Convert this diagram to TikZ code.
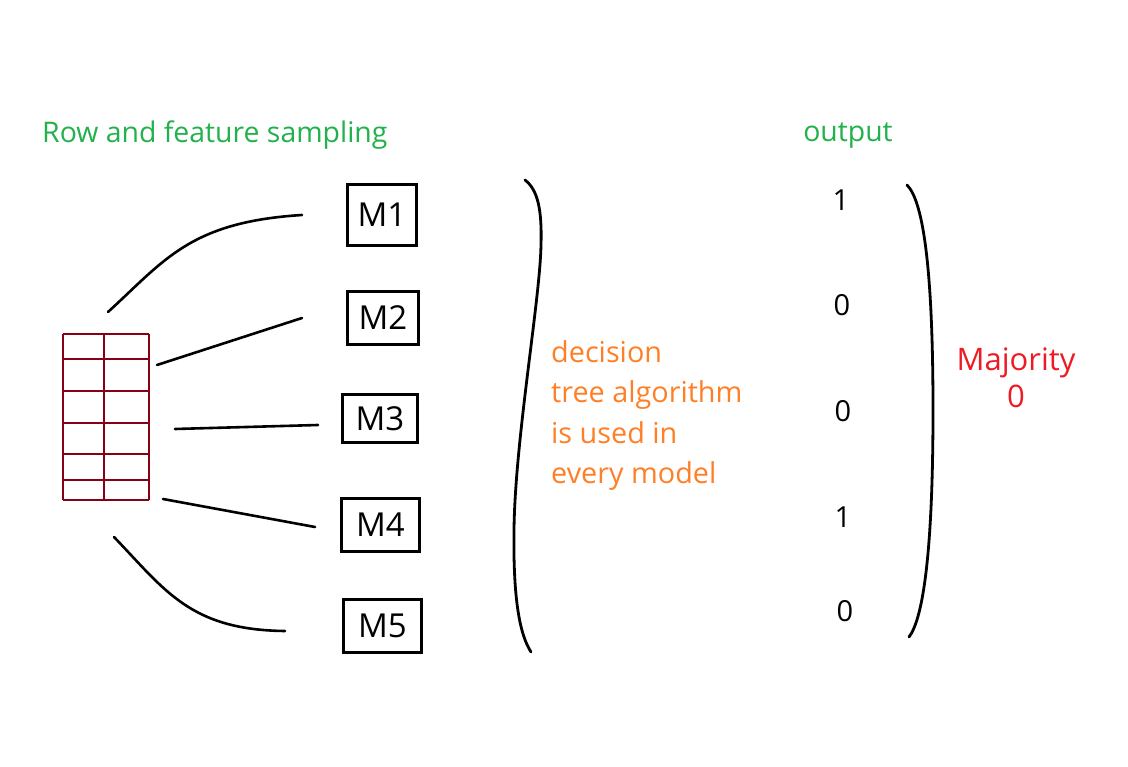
\documentclass[tikz,border=0pt]{standalone}
\usepackage{fontspec}
\setmainfont{Open Sans}
\definecolor{pgreen}{RGB}{34,177,76}
\definecolor{porange}{RGB}{255,127,39}
\definecolor{pred}{RGB}{237,28,36}
\definecolor{pdarkred}{RGB}{136,0,21}
\tikzset{
  modelbox/.style={draw=black, line width=3pt, inner sep=0pt, font=\fontsize{33}{36}\selectfont},
  conn/.style={draw=black, line width=2.6pt, line cap=round},
  brace/.style={draw=black, line width=2.8pt, line cap=round},
  gridline/.style={draw=pdarkred, line width=1.1pt},
  numtext/.style={inner sep=0pt, font=\fontsize{29}{34}\selectfont, text=black}
}
\begin{document}
\begin{tikzpicture}[x=1pt,y=-1pt]
\useasboundingbox[fill=white] (0,0) rectangle (1128,767);

% title texts
\node[anchor=base west, inner sep=0pt, text=pgreen, font=\fontsize{28.4}{34}\selectfont] (title) at (42,143) {Row and feature sampling};
\node[anchor=base, inner sep=0pt, text=pgreen, font=\fontsize{28.4}{34}\selectfont] (outlabel) at (848,142) {output};

% data grid
\node[inner sep=0pt, minimum width=86pt, minimum height=166pt] (grid) at (106,417) {};
\foreach \yy in {334,359,391,423,454,480,500}
  \draw[gridline] (63,\yy) -- (149,\yy);
\foreach \xx in {63,104,149}
  \draw[gridline] (\xx,334) -- (\xx,500);

% model boxes
\node[modelbox, minimum width=69pt, minimum height=61pt] (m1) at (382,215) {M1};
\node[modelbox, minimum width=71pt, minimum height=53pt] (m2) at (383,318) {M2};
\node[modelbox, minimum width=75pt, minimum height=48pt] (m3) at (380,418.5) {M3};
\node[modelbox, minimum width=78pt, minimum height=53pt] (m4) at (380.5,525) {M4};
\node[modelbox, minimum width=78pt, minimum height=53pt] (m5) at (382.5,626) {M5};

% connector end points
\coordinate (s1) at (108,312); \coordinate (e1) at (302,215);
\coordinate (s2) at (157,365); \coordinate (e2) at (302,318);
\coordinate (s3) at (175,429); \coordinate (e3) at (318,425);
\coordinate (s4) at (163,499); \coordinate (e4) at (315,527);
\coordinate (s5) at (114,537); \coordinate (e5) at (285,631);

\draw[conn] (s1) .. controls (165,260) and (190,222) .. (e1);
\draw[conn] (s2) -- (e2);
\draw[conn] (s3) -- (e3);
\draw[conn] (s4) -- (e4);
\draw[conn] (s5) .. controls (165,590) and (190,630) .. (e5);

% braces
\draw[brace] (525,180) .. controls (538,190) and (542,210) .. (541,245)
  .. controls (540,300) and (515,440) .. (514,530)
  .. controls (513,600) and (520,635) .. (531,652);
\draw[brace] (907,185) .. controls (922,200) and (933,260) .. (933,410)
  .. controls (933,560) and (922,620) .. (909,637);

% algorithm text
\node[anchor=north west, inner sep=0pt, align=left, text=porange, font=\fontsize{28.8}{40.5}\selectfont] (algo) at (551,340) {decision\\tree algorithm\\is used in\\every model};

% outputs
\node[numtext] (o1) at (841,200) {1};
\node[numtext] (o2) at (842,305) {0};
\node[numtext] (o3) at (843,411) {0};
\node[numtext] (o4) at (843,517) {1};
\node[numtext] (o5) at (845,611) {0};

% majority
\node[anchor=north, inner sep=0pt, align=center, text=pred, font=\fontsize{31}{37}\selectfont] (maj) at (1016,348) {Majority\\0};
\end{tikzpicture}
\end{document}
